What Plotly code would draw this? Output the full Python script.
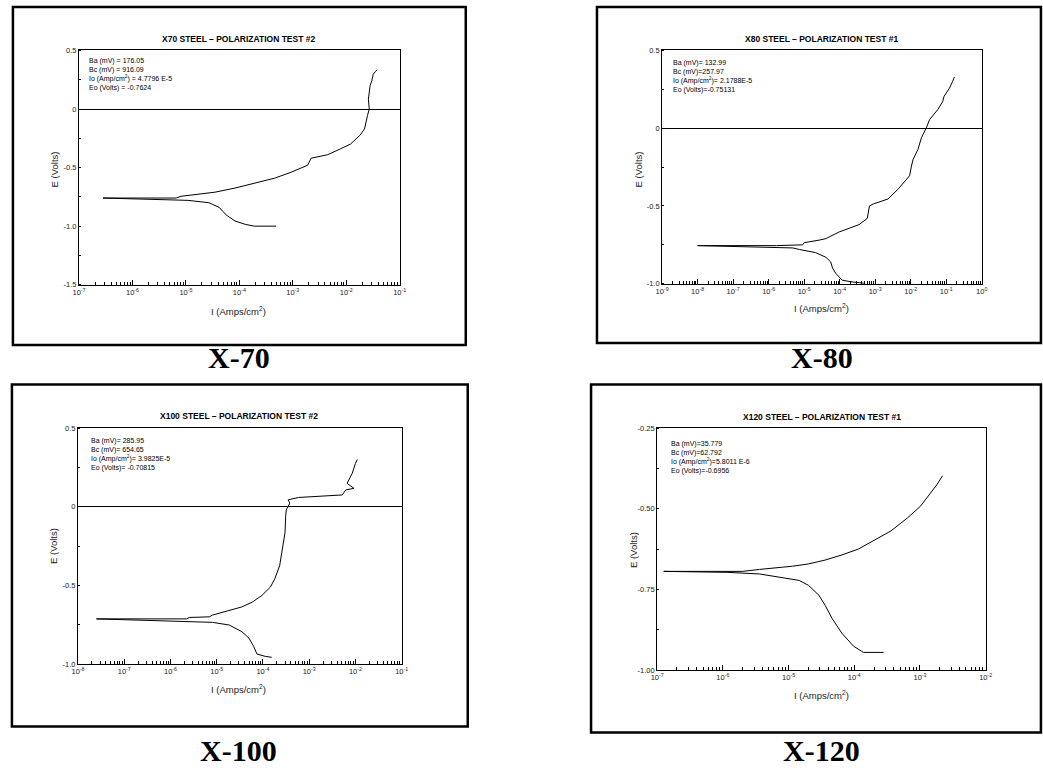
import plotly.graph_objects as go

W, H = 1043, 775

# ---------------- data ----------------
# X-70
x70_an_I = [2.8e-7, 6.6e-6, 8.1e-6, 1.9e-5, 3.5e-5, 8.3e-5, 2.6e-4, 4.6e-4, 9.3e-4, 1.9e-3, 2.2e-3,
            4.5e-3, 7.8e-3, 1.2e-2, 1.8e-2, 2.2e-2, 2.5e-2, 2.7e-2, 2.6e-2, 2.8e-2, 3.0e-2, 3.2e-2, 3.5e-2, 3.8e-2]
x70_an_E = [-0.76, -0.76, -0.745, -0.726, -0.71, -0.675, -0.62, -0.59, -0.54, -0.48, -0.42,
            -0.39, -0.34, -0.30, -0.225, -0.17, -0.056, 0.0, 0.084, 0.2, 0.24, 0.295, 0.32, 0.335]
x70_ca_I = [2.8e-7, 4.9e-6, 1.1e-5, 2.7e-5, 4.2e-5, 4.8e-5, 5.9e-5, 8.3e-5, 1.3e-4, 1.9e-4, 4.9e-4]
x70_ca_E = [-0.76, -0.774, -0.78, -0.80, -0.84, -0.87, -0.91, -0.956, -0.985, -1.0, -1.0]

# X-80
x80_an_I = [1.0e-8, 1.66e-6, 9.1e-6, 1.0e-5, 2.6e-5, 4.1e-5, 9.5e-5, 3.5e-4, 6.0e-4, 6.9e-4, 8.9e-4,
            2.3e-3, 4.5e-3, 9.3e-3, 1.05e-2, 1.17e-2, 1.6e-2, 2.0e-2, 2.75e-2, 3.4e-2, 5.8e-2,
            7.9e-2, 8.7e-2, 0.123, 0.151, 0.17]
x80_an_E = [-0.755, -0.755, -0.75, -0.736, -0.72, -0.71, -0.668, -0.62, -0.58, -0.50, -0.487,
            -0.455, -0.39, -0.306, -0.243, -0.2, -0.136, -0.062, 0.002, 0.055, 0.12,
            0.17, 0.205, 0.257, 0.30, 0.33]
x80_ca_I = [1.0e-8, 4.8e-6, 7.4e-6, 2.1e-5, 4.1e-5, 5.6e-5, 6.3e-5, 7.8e-5, 1.17e-4, 2.0e-4, 5.2e-4]
x80_ca_E = [-0.755, -0.77, -0.78, -0.80, -0.83, -0.86, -0.90, -0.934, -0.977, -0.987, -0.998]

# X-100
x100_an_I = [2.5e-8, 2.2e-6, 2.6e-6, 6.9e-6, 8.1e-6, 1.6e-5, 3.5e-5, 5.9e-5, 9.5e-5, 1.45e-4, 1.8e-4,
             2.3e-4, 2.6e-4, 3.0e-4, 3.1e-4, 3.2e-4, 3.8e-4, 3.5e-4, 5.9e-4, 5.2e-3, 6.2e-3, 9.3e-3,
             6.6e-3, 8.5e-3, 1.0e-2, 1.1e-2]
x100_an_E = [-0.712, -0.712, -0.703, -0.699, -0.688, -0.663, -0.636, -0.605, -0.563, -0.51, -0.458,
             -0.374, -0.27, -0.165, -0.06, -0.02, 0.023, 0.044, 0.059, 0.075, 0.107, 0.117,
             0.149, 0.211, 0.274, 0.30]
x100_ca_I = [2.5e-8, 2.6e-6, 8.1e-6, 1.86e-5, 3.5e-5, 5.0e-5, 6.3e-5, 7.4e-5, 1.12e-4, 1.55e-4]
x100_ca_E = [-0.712, -0.726, -0.734, -0.751, -0.793, -0.835, -0.887, -0.935, -0.95, -0.956]

# X-120
x120_an_I = [1.26e-7, 2.0e-6, 3.6e-6, 7.2e-6, 8.1e-6, 1.15e-5, 2.0e-5, 3.6e-5, 6.5e-5, 1.15e-4,
             2.0e-4, 3.6e-4, 6.5e-4, 1.02e-3, 1.45e-3, 1.8e-3, 2.2e-3]
x120_an_E = [-0.694, -0.694, -0.688, -0.684, -0.681, -0.678, -0.671, -0.659, -0.643, -0.625,
             -0.599, -0.569, -0.528, -0.492, -0.451, -0.426, -0.398]
x120_ca_I = [1.26e-7, 1.15e-6, 3.6e-6, 7.2e-6, 1.45e-5, 2.0e-5, 2.9e-5, 3.6e-5, 4.6e-5, 6.5e-5,
             9.8e-5, 1.38e-4, 2.8e-4]
x120_ca_E = [-0.694, -0.697, -0.702, -0.712, -0.722, -0.737, -0.768, -0.799, -0.84, -0.886,
             -0.926, -0.945, -0.945]

titles = ["X70 STEEL \u2013 POLARIZATION TEST #2", "X80 STEEL \u2013 POLARIZATION TEST #1",
          "X100 STEEL \u2013 POLARIZATION TEST #2", "X120 STEEL \u2013 POLARIZATION TEST #1"]
labels = ["X-70", "X-80", "X-100", "X-120"]
params = [
    ["Ba (mV) = 176.05", "Bc (mV) = 916.09", "Io (Amp/cm<sup>2</sup>) = 4.7796 E-5", "Eo (Volts) = -0.7624"],
    ["Ba (mV)= 132.99", "Bc (mV)=257.97", "Io (Amp/cm<sup>2</sup>)= 2.1788E-5", "Eo (Volts)=-0.75131"],
    ["Ba (mV)= 285.95", "Bc (mV)= 654.65", "Io (Amp/cm<sup>2</sup>)= 3.9825E-5", "Eo (Volts)= -0.70815"],
    ["Ba (mV)=35.779", "Bc (mV)=62.792", "Io (Amp/cm<sup>2</sup>)=5.8011 E-6", "Eo (Volts)=-0.6956"],
]
x_decades = [(-7, -1), (-9, 0), (-8, -1), (-7, -2)]
y_ticks = [[0.5, 0, -0.5, -1.0, -1.5], [0.5, 0, -0.5, -1.0], [0.5, 0, -0.5, -1.0], [-0.25, -0.50, -0.75, -1.00]]
y_ticktext = [["0.5", "0", "-0.5", "-1.0", "-1.5"], ["0.5", "0", "-0.5", "-1.0"],
              ["0.5", "0", "-0.5", "-1.0"], ["-0.25", "-0.50", "-0.75", "-1.00"]]

series = [(x70_an_I, x70_an_E, x70_ca_I, x70_ca_E), (x80_an_I, x80_an_E, x80_ca_I, x80_ca_E),
          (x100_an_I, x100_an_E, x100_ca_I, x100_ca_E), (x120_an_I, x120_an_E, x120_ca_I, x120_ca_E)]

# ---------------- layout geometry (pixels) ----------------
plot_boxes = [(73, 47, 398, 284), (664, 47, 988, 283), (72, 429, 400, 668), (659, 429, 992, 674)]
frames = [(6, 3, 465, 345), (598, 3, 1048, 343), (5, 385, 467, 731), (592, 385, 1048, 737)]
label_pos = [(235, 358), (826, 358), (235, 755), (826, 755)]
title_pos = [(235, 35), (826, 35), (235, 417), (826, 418)]
etitle_pos = [(48, 167), (640, 167), (47, 548), (635, 552)]
ititle_pos = [(235, 311), (826, 308), (235, 693), (826, 699)]
param_pos = [(81, 52), (673, 54), (83, 436), (671, 439)]


def fx(x):
    return x / W


def fy(y):
    return 1 - y / H


fig = go.Figure()
shapes = []
annotations = []
FONT = "Liberation Sans, Arial, sans-serif"

for i in range(4):
    n = "" if i == 0 else str(i + 1)
    xa, ya = "x" + n, "y" + n
    aI, aE, cI, cE = series[i]
    for I, E in ((aI, aE), (cI, cE)):
        fig.add_trace(go.Scatter(x=I, y=E, mode="lines", xaxis=xa, yaxis=ya,
                                 line=dict(color="black", width=1), showlegend=False,
                                 hoverinfo="skip"))
    x0, y0, x1, y1 = plot_boxes[i]
    d0, d1 = x_decades[i]
    tv = [10.0 ** k for k in range(d0, d1 + 1)]
    tt = ["10<sup>%d</sup>" % k for k in range(d0, d1 + 1)]
    minor_vals = [m * 10.0 ** k for k in range(d0, d1) for m in range(2, 10)]
    fig.layout["xaxis" + n] = dict(
        type="log", domain=[fx(x0), fx(x1)], anchor=ya, range=[d0, d1],
        tickvals=tv, ticktext=tt, ticks="inside", ticklen=5, tickwidth=1, tickcolor="black",
        minor=dict(tickvals=minor_vals, ticks="inside", ticklen=3, tickwidth=1, tickcolor="black"),
        showline=True, mirror=True, linecolor="black", linewidth=1, showgrid=False, zeroline=False,
        tickfont=dict(family=FONT, size=7.5, color="#222"),
    )
    yr = [y_ticks[i][-1], y_ticks[i][0]]
    fig.layout["yaxis" + n] = dict(
        domain=[fy(y1), fy(y0)], anchor=xa, range=yr,
        tickvals=y_ticks[i], ticktext=y_ticktext[i], ticks="",
        minor=dict(ticks="inside", ticklen=2, tickcolor="black", dtick=(y_ticks[i][0] - y_ticks[i][1]) / 2),
        showline=True, mirror=True, linecolor="black", linewidth=1, showgrid=False,
        zeroline=(yr[0] < 0 < yr[1]), zerolinecolor="black", zerolinewidth=1,
        tickfont=dict(family=FONT, size=7.5, color="#222"),
    )
    # outer frame
    fx0, fy0, fx1, fy1 = frames[i]
    shapes.append(dict(type="rect", xref="paper", yref="paper", x0=fx(fx0), x1=fx(fx1),
                       y0=fy(fy1), y1=fy(fy0), line=dict(color="black", width=2.5)))
    # labels
    annotations.append(dict(text="<b>%s</b>" % labels[i], x=fx(label_pos[i][0]), y=fy(label_pos[i][1]),
                            xref="paper", yref="paper", showarrow=False, xanchor="center", yanchor="middle",
                            font=dict(family="Liberation Serif, Times New Roman, serif", size=30, color="black")))
    annotations.append(dict(text="<b>%s</b>" % titles[i], x=fx(title_pos[i][0]), y=fy(title_pos[i][1]),
                            xref="paper", yref="paper", showarrow=False, xanchor="center", yanchor="middle",
                            font=dict(family=FONT, size=8.5, color="black")))
    annotations.append(dict(text="E (Volts)", x=fx(etitle_pos[i][0]), y=fy(etitle_pos[i][1]), textangle=-90,
                            xref="paper", yref="paper", showarrow=False, xanchor="center", yanchor="middle",
                            font=dict(family=FONT, size=9.5, color="#222")))
    annotations.append(dict(text="I (Amps/cm<sup>2</sup>)", x=fx(ititle_pos[i][0]), y=fy(ititle_pos[i][1]),
                            xref="paper", yref="paper", showarrow=False, xanchor="center", yanchor="middle",
                            font=dict(family=FONT, size=9.5, color="#222")))
    px, py = param_pos[i]
    annotations.append(dict(text="<br>".join(params[i]), x=fx(px), y=fy(py), xref="paper", yref="paper",
                            showarrow=False, xanchor="left", yanchor="top", align="left",
                            font=dict(family=FONT, size=7, color="black")))

fig.update_layout(width=W, height=H, autosize=False, margin=dict(l=0, r=0, t=0, b=0),
                  paper_bgcolor="white", plot_bgcolor="white", shapes=shapes, annotations=annotations,
                  showlegend=False)

fig.write_html("out.html", config={"displayModeBar": False},
               post_script="document.body.style.margin='0';")
